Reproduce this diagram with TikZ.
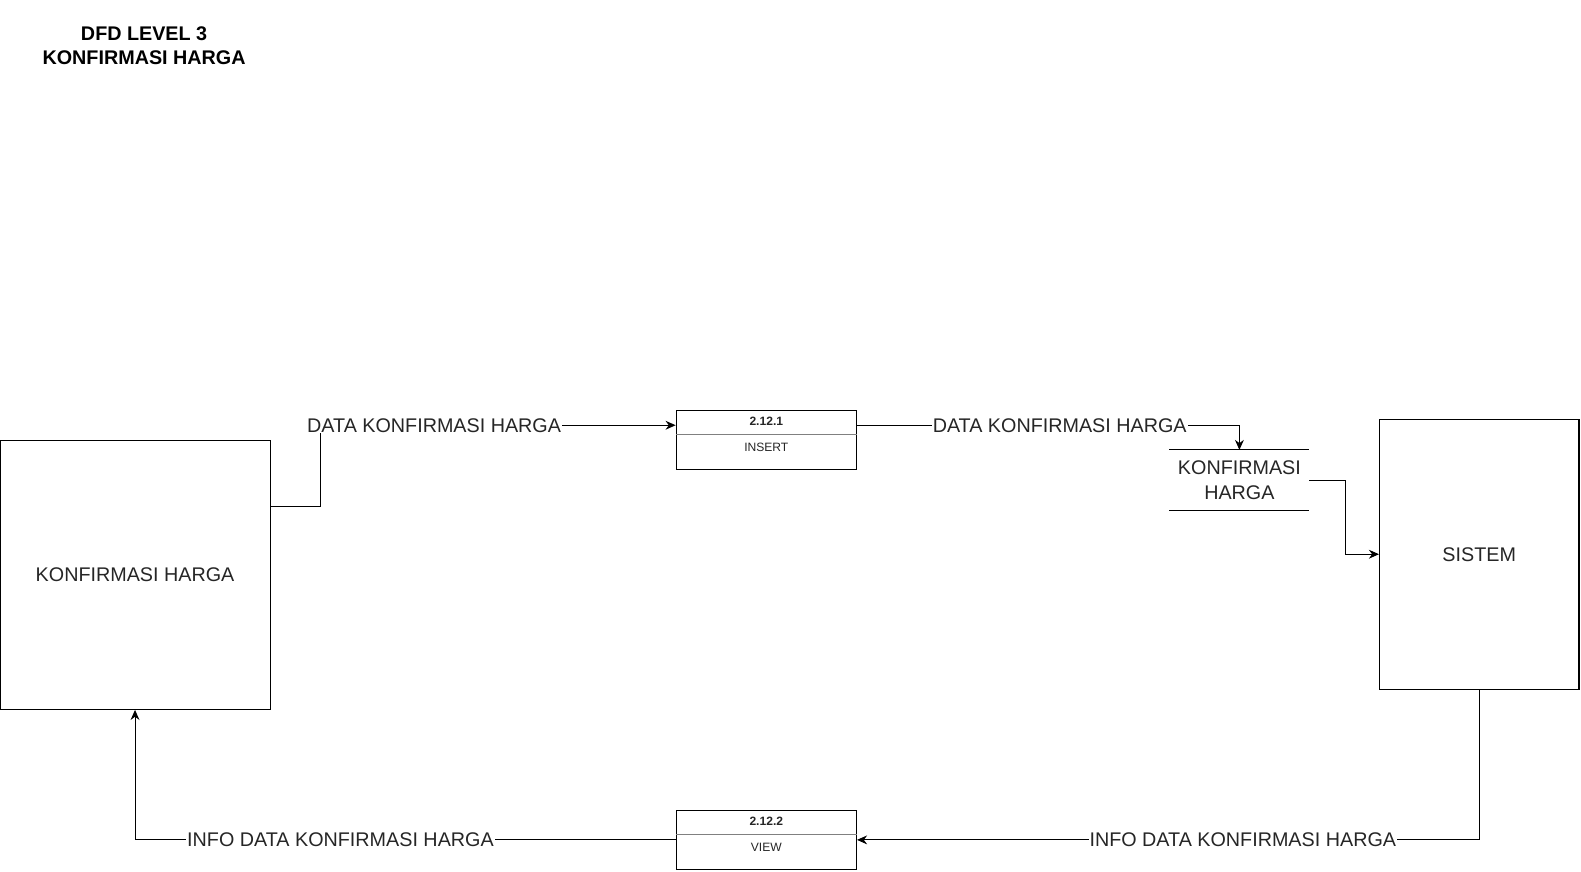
\documentclass[tikz,border=0pt]{standalone}
\usepackage{fontspec}
\setmainfont{Liberation Sans}
\usetikzlibrary{arrows.meta}

\tikzset{
  flow/.style={draw, line width=0.5pt, -{Stealth[length=5pt,width=4.4pt]}},
  lbl/.style={fill=white, inner sep=0.5pt, font=\fontsize{9.8}{12}\selectfont, text=black!85},
  entity/.style={draw, line width=0.5pt, inner sep=0pt, font=\fontsize{9.8}{12}\selectfont, text=black!85},
  procbox/.style={draw, line width=0.5pt, inner sep=0pt, minimum width=89.5pt, minimum height=29.5pt},
  proctext/.style={inner sep=0pt, font=\fontsize{6}{7}\selectfont, text=black!85}
}

\begin{document}
\begin{tikzpicture}[x=0.5pt,y=-0.5pt]

\useasboundingbox (0,0) rectangle (1569,864.5);

% title
\node [align=center, font=\bfseries\fontsize{9.8}{12}\selectfont] (title) at (143,45) {DFD LEVEL 3\\KONFIRMASI HARGA};

% entities
\node [entity, minimum width=134pt, minimum height=133.5pt] (ent) at (134,570.5) {KONFIRMASI HARGA};
\node [entity, minimum width=99pt, minimum height=134pt] (sistem) at (1468,550) {SISTEM};

% processes
\node [procbox] (insert) at (760.5,436.5) {};
\draw [gray, line width=0.5pt] (671,431) -- (850,431);
\node [proctext, font=\bfseries\fontsize{6}{7}\selectfont] (insertno) at (760.5,418) {2.12.1};
\node [proctext] (insertname) at (760.5,443.5) {INSERT};

\node [procbox] (view) at (760.5,833.5) {};
\draw [gray, line width=0.5pt] (671,828) -- (850,828);
\node [proctext, font=\bfseries\fontsize{6}{7}\selectfont] (viewno) at (760.5,815) {2.12.2};
\node [proctext] (viewname) at (760.5,840.5) {VIEW};

% data store
\node [entity, draw=none, align=center, minimum width=69pt, minimum height=29.5pt] (store) at (1230,476.5) {KONFIRMASI\\HARGA};
\draw [line width=0.5pt] (store.north west) -- (store.north east);
\draw [line width=0.5pt] (store.south west) -- (store.south east);

% flows
\coordinate (k1a) at (318,503);
\coordinate (k1b) at (318,422);
\draw [flow] (ent.east |- k1a) -- (k1a) -- (k1b) -- node[lbl, pos=0.32] {DATA KONFIRMASI HARGA} (k1b -| insert.west);

\draw [flow] (insert.east |- k1b) -| node[lbl, pos=0.265] {DATA KONFIRMASI HARGA} (store.north);

\coordinate (k3) at (1335,550);
\draw [flow] (store.east) -| (k3) -- (sistem.west);

\draw [flow] (sistem.south) |- node[lbl, pos=0.69] {INFO DATA KONFIRMASI HARGA} (view.east);

\draw [flow] (view.west) -| node[lbl, pos=0.31] {INFO DATA KONFIRMASI HARGA} (ent.south);

\end{tikzpicture}
\end{document}
